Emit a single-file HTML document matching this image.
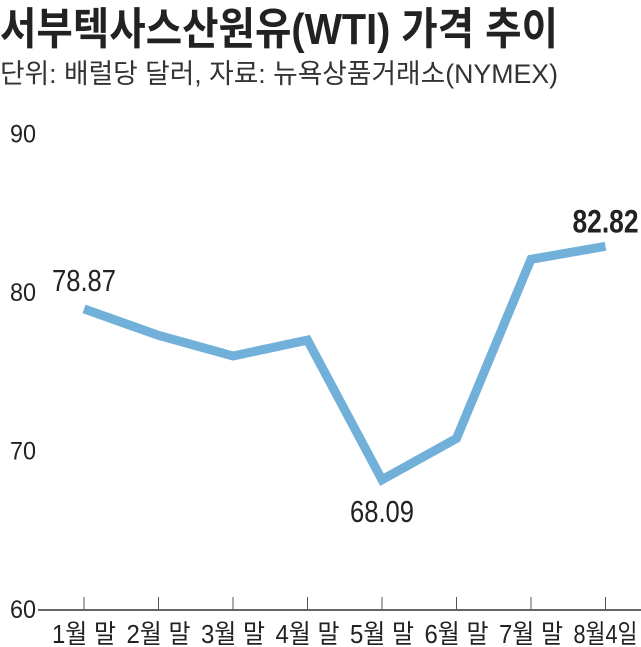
<!DOCTYPE html>
<html><head><meta charset="utf-8"><style>
html,body{margin:0;padding:0;background:#fff}
svg{display:block}
text{font-family:"Liberation Sans","Noto Sans CJK KR",sans-serif;fill:#222}
</style></head><body>
<svg id="chart" width="641" height="647" viewBox="0 0 641 647" xmlns="http://www.w3.org/2000/svg">
<text x="0" y="44" font-size="44" font-weight="bold" textLength="558" lengthAdjust="spacingAndGlyphs">서부텍사스산원유(WTI) 가격 추이</text>
<text x="0" y="83" font-size="27" textLength="558" lengthAdjust="spacingAndGlyphs" style="fill:#333">단위: 배럴당 달러, 자료: 뉴욕상품거래소(NYMEX)</text>
<g id="axes"></g>
<g id="marks"></g>
</svg>
<script>
const categories=["1월 말","2월 말","3월 말","4월 말","5월 말","6월 말","7월 말","8월4일"];
const values=[78.87,77.2,75.9,76.9,68.09,70.7,82.0,82.82];
const yTicks=[60,70,80,90];
const labeled=[{i:0,text:"78.87",bold:false,dy:-18},{i:4,text:"68.09",bold:false,dy:42},{i:7,text:"82.82",bold:true,dy:-14}];
const NS="http://www.w3.org/2000/svg";
const x0=84,dx=74.5;
function xs(i){return x0+i*dx;}
function ys(v){return 608-(v-60)*15.85;}
function mk(tag,attrs,parent){const e=document.createElementNS(NS,tag);for(const k in attrs)e.setAttribute(k,attrs[k]);parent.appendChild(e);return e;}
const axes=document.getElementById('axes'),marks=document.getElementById('marks');
const base=mk('line',{x1:38,x2:641,y1:610,y2:610,stroke:'#333','stroke-width':1.5},axes);


yTicks.forEach(t=>{
  const tx=mk('text',{x:10,y:ys(t)+10,'font-size':25,textLength:26,lengthAdjust:'spacingAndGlyphs'},axes);
  tx.textContent=t;
  
  
});
categories.forEach((c,i)=>{
  const tk=mk('line',{x1:xs(i),x2:xs(i),y1:597,y2:610,stroke:'#555','stroke-width':1},axes);
  
  
  const tx=mk('text',{x:xs(i),y:643,'font-size':26,'text-anchor':'middle',textLength:64,lengthAdjust:'spacingAndGlyphs'},axes);
  tx.textContent=c;
  
  
});
const pts=values.map((v,i)=>xs(i)+','+ys(v)).join(' ');
const line=mk('polyline',{points:pts,fill:'none',stroke:'#71b0d9','stroke-width':9,'stroke-linejoin':'miter','stroke-linecap':'butt'},marks);


labeled.forEach(l=>{
  const tx=mk('text',{x:xs(l.i),y:ys(values[l.i])+l.dy,'font-size':l.bold?32:31,'font-weight':l.bold?'bold':'normal','text-anchor':'middle',textLength:l.bold?66:64,lengthAdjust:'spacingAndGlyphs'},marks);
  tx.textContent=l.text;
  
  
});
</script>
</body></html>
